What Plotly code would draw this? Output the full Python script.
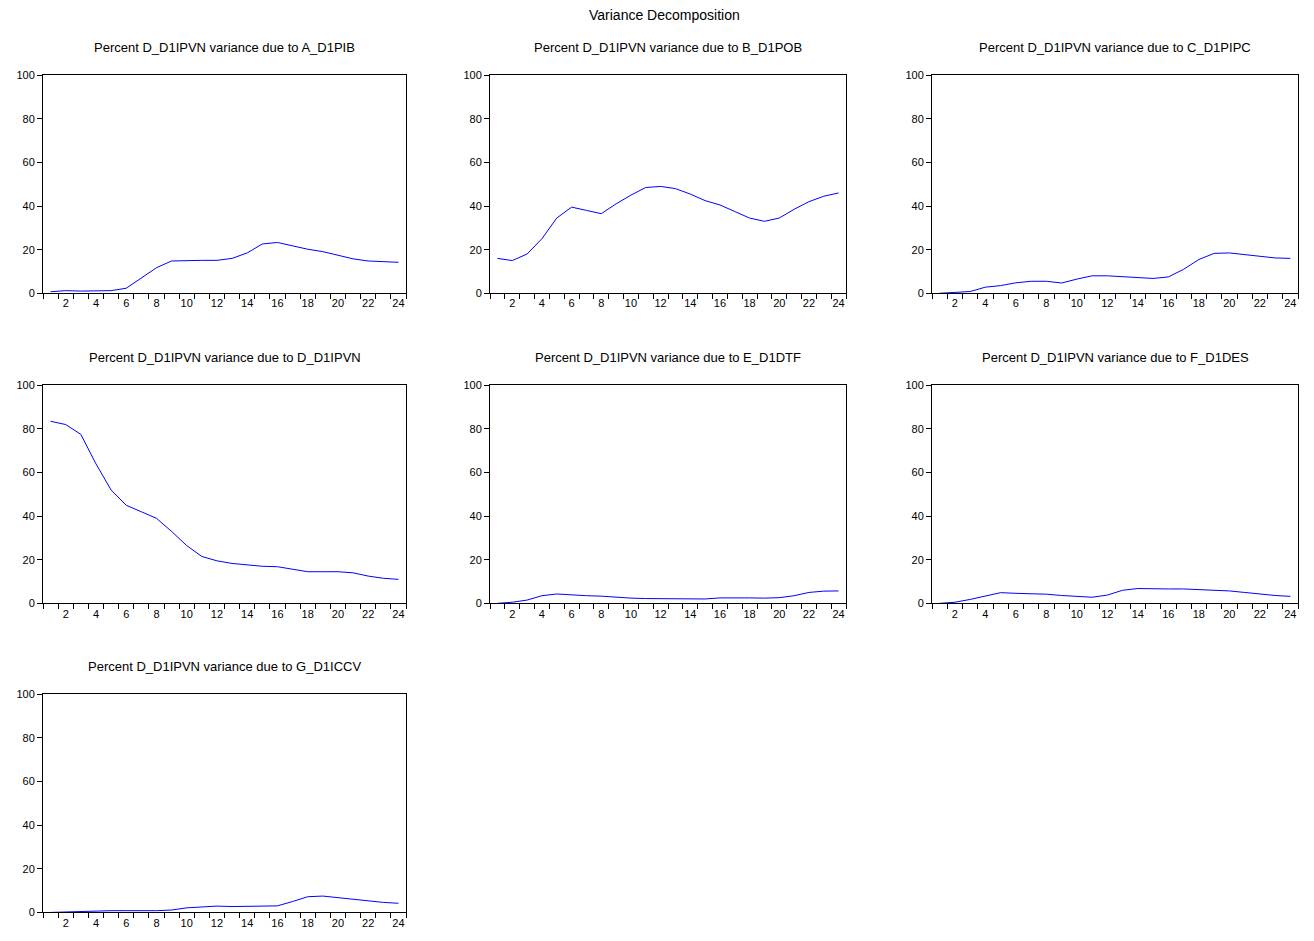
import plotly.graph_objects as go
from plotly.subplots import make_subplots

periods = list(range(1, 25))

a_d1pib = [0.7, 1.2, 1.0, 1.2, 1.2, 2.3, 7.0, 11.7, 14.8, 15.1, 15.1, 15.1,
           16.0, 18.5, 22.6, 23.3, 21.7, 20.2, 19.1, 17.5, 15.8, 14.8, 14.4, 14.2]
b_d1pob = [16.0, 15.0, 18.0, 25.0, 34.5, 39.5, 38.0, 36.5, 41.0, 45.0, 48.5, 49.0,
           48.0, 45.5, 42.5, 40.5, 37.5, 34.5, 33.0, 34.5, 38.5, 42.0, 44.5, 46.0]
c_d1pipc = [0.0, 0.5, 0.8, 2.8, 3.5, 4.8, 5.5, 5.5, 4.7, 6.5, 8.0, 8.0,
            7.5, 7.0, 6.8, 7.5, 11.0, 15.5, 18.3, 18.5, 17.8, 17.0, 16.2, 16.0]
d_d1ipvn = [83.5, 82.0, 77.5, 64.0, 52.0, 45.0, 42.0, 39.0, 33.0, 26.5, 21.5, 19.5,
            18.3, 17.5, 17.0, 16.8, 15.5, 14.5, 14.5, 14.5, 14.0, 12.5, 11.5, 11.0]
e_d1dtf = [0.0, 0.5, 1.5, 3.5, 4.3, 3.8, 3.5, 3.3, 2.8, 2.4, 2.2, 2.2,
           2.0, 2.0, 2.0, 2.5, 2.6, 2.5, 2.4, 2.6, 3.5, 5.0, 5.6, 5.7]
f_d1des = [0.0, 0.5, 1.8, 3.5, 4.9, 4.6, 4.4, 4.2, 3.6, 3.1, 2.8, 3.8,
           6.0, 6.8, 6.6, 6.6, 6.6, 6.3, 6.0, 5.7, 5.0, 4.2, 3.6, 3.2]
g_d1iccv = [0.0, 0.2, 0.3, 0.8, 0.8, 0.8, 0.7, 0.8, 1.1, 2.1, 2.5, 2.9,
            2.7, 2.9, 2.9, 3.0, 5.0, 7.2, 7.5, 6.8, 6.0, 5.2, 4.6, 4.2]

titles = ["A_D1PIB", "B_D1POB", "C_D1PIPC", "D_D1IPVN", "E_D1DTF", "F_D1DES", "G_D1ICCV"]
series = [a_d1pib, b_d1pob, c_d1pipc, d_d1ipvn, e_d1dtf, f_d1des, g_d1iccv]

W, H = 1314, 941


def px_x(v):
    return (v - 7) / W


def px_y(v):
    return 1 - ((v - 13.8) / 0.987) / H


x_px = [(42, 405), (489, 845), (931, 1297)]
y_px = [(75, 293), (385, 603), (694, 912)]

fig = make_subplots(rows=3, cols=3)
font = "Liberation Sans, Arial, sans-serif"

for i, (name, vals) in enumerate(zip(titles, series)):
    r, c = divmod(i, 3)
    fig.add_trace(go.Scatter(x=periods, y=vals, mode="lines",
                             line=dict(color="#0000ff", width=1),
                             showlegend=False), row=r + 1, col=c + 1)
    x0, x1 = x_px[c]
    y0, y1 = y_px[r]
    n = i + 1
    fig.layout[f"xaxis{n}"].domain = [px_x(x0), px_x(x1)]
    fig.layout[f"yaxis{n}"].domain = [px_y(y1), px_y(y0)]
    fig.add_annotation(x=px_x((x0 + x1) / 2), y=px_y(y0 - 28), xref="paper", yref="paper",
                       text=f"Percent D_D1IPVN variance due to {name}", showarrow=False,
                       xanchor="center", yanchor="middle",
                       font=dict(size=13, color="black", family=font))

fig.update_xaxes(range=[0.5, 24.5], tickvals=list(range(2, 25, 2)), ticks="",
                 showgrid=False, zeroline=False, showline=True, linecolor="black",
                 linewidth=1, mirror=True, tickfont=dict(size=11, color="black"),
                 minor=dict(tick0=0.5, dtick=1, ticks="outside", ticklen=5,
                            tickcolor="black", showgrid=False))
fig.update_yaxes(range=[0, 100], tickvals=[0, 20, 40, 60, 80, 100], ticks="outside",
                 ticklen=5, tickcolor="black", showgrid=False, zeroline=False,
                 showline=True, linecolor="black", linewidth=1, mirror=True,
                 tickfont=dict(size=11, color="black"))

fig.add_annotation(x=px_x(663), y=1 - 1 / H, xref="paper", yref="paper",
                   showarrow=False, xanchor="center", yanchor="middle",
                   text="Variance Decomposition", font=dict(size=14, color="black", family=font))

fig.update_layout(width=W, height=H, margin=dict(l=0, r=0, t=0, b=0),
                  plot_bgcolor="white", paper_bgcolor="white",
                  font=dict(family=font, color="black"))

fig.write_html("out.html")
